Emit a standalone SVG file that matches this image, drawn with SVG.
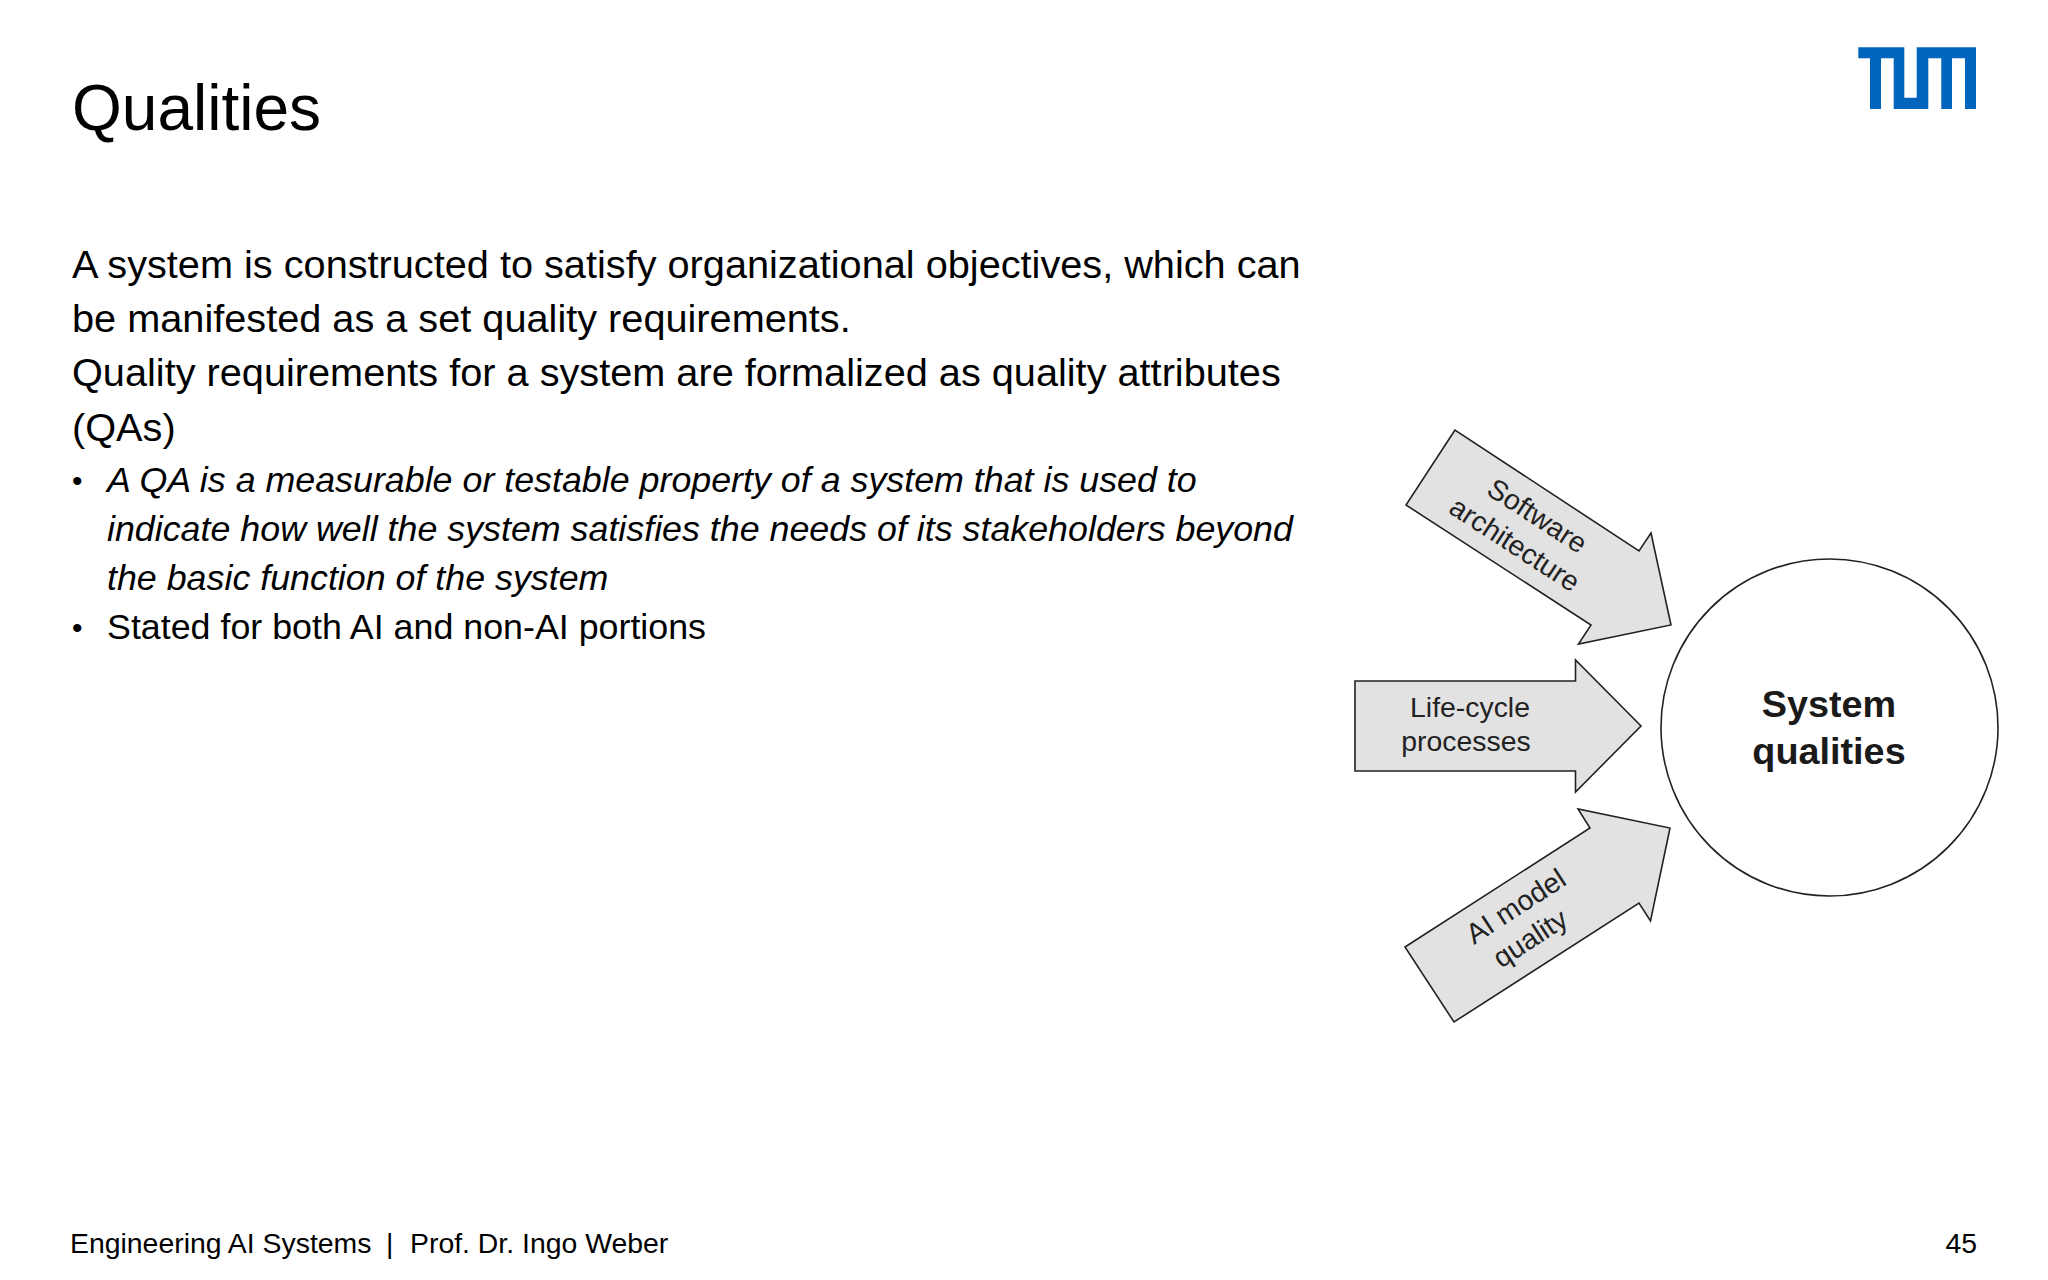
<svg xmlns="http://www.w3.org/2000/svg" width="2048" height="1280" viewBox="0 0 2048 1280">
<style>
text{font-family:"Liberation Sans",Arial,sans-serif;fill:#000}
.title{font-size:64px}
.body{font-size:39.7px}
.sub{font-size:35.8px}
.bul{font-size:30px}
.foot{font-size:28.4px}
.arrow{fill:#e2e2e2;stroke:#222;stroke-width:1.6;stroke-linejoin:miter}
.lbl{font-size:28.4px;text-anchor:middle;fill:#222}
.big{font-size:37.8px;font-weight:bold;text-anchor:middle;fill:#1a1a1a}
</style>
<rect width="2048" height="1280" fill="#fff"/>
<path id="logo" fill="#0065bd" d="M1858.3 47.3H1904.3V97.7H1916.7V47.3H1976V109H1965V58.3H1952V109H1941.3V58.3H1928.3V109H1893.7V58.3H1881V109H1870V58.3H1858.3Z"/>
<text class="title" x="72" y="130">Qualities</text>
<g id="body-text">
<text class="body" x="72" y="278">A system is constructed to satisfy organizational objectives, which can</text>
<text class="body" x="72" y="332">be manifested as a set quality requirements.</text>
<text class="body" x="72" y="386">Quality requirements for a system are formalized as quality attributes</text>
<text class="body" x="72" y="441">(QAs)</text>
<text class="bul" x="72" y="491">•</text>
<text class="sub" x="107" y="492" font-style="italic">A QA is a measurable or testable property of a system that is used to</text>
<text class="sub" x="107" y="541" font-style="italic">indicate how well the system satisfies the needs of its stakeholders beyond</text>
<text class="sub" x="107" y="590" font-style="italic">the basic function of the system</text>
<text class="bul" x="72" y="638">•</text>
<text class="sub" x="107" y="639">Stated for both AI and non-AI portions</text>
</g>
<g id="connectors">
<g id="arrow-software">
<polygon class="arrow" points="1455,430 1406,505 1591,625 1578.5,644 1671,625 1651,533 1639,551"/>
<text class="lbl" transform="translate(1537.5,515.5) rotate(33)" y="10">Software</text>
<text class="lbl" transform="translate(1515,544) rotate(33)" y="10">architecture</text>
</g>
<g id="arrow-lifecycle">
<polygon class="arrow" points="1355,681 1575.5,681 1575.5,660 1641,726 1575.5,792 1575.5,771 1355,771"/>
<text class="lbl" x="1470" y="716.5">Life-cycle</text>
<text class="lbl" x="1466" y="750.5">processes</text>
</g>
<g id="arrow-ai">
<polygon class="arrow" points="1405,947 1590,828 1578,809 1670,828 1650.5,921 1639,903 1454,1022"/>
<text class="lbl" transform="translate(1515.5,906) rotate(-33)" y="10">AI model</text>
<text class="lbl" transform="translate(1530,938) rotate(-33)" y="10">quality</text>
</g>
</g>
<g id="system-qualities">
<circle cx="1829.5" cy="727.5" r="168.5" fill="#fff" stroke="#222" stroke-width="1.6"/>
<text class="big" x="1829" y="717">System</text>
<text class="big" x="1829" y="764">qualities</text>
</g>
<g id="footer">
<text class="foot" x="70" y="1253">Engineering AI Systems</text>
<text class="foot" x="386" y="1253">|</text>
<text class="foot" x="410" y="1253">Prof. Dr. Ingo Weber</text>
<text class="foot" x="1977" y="1253" text-anchor="end">45</text>
</g>
</svg>
